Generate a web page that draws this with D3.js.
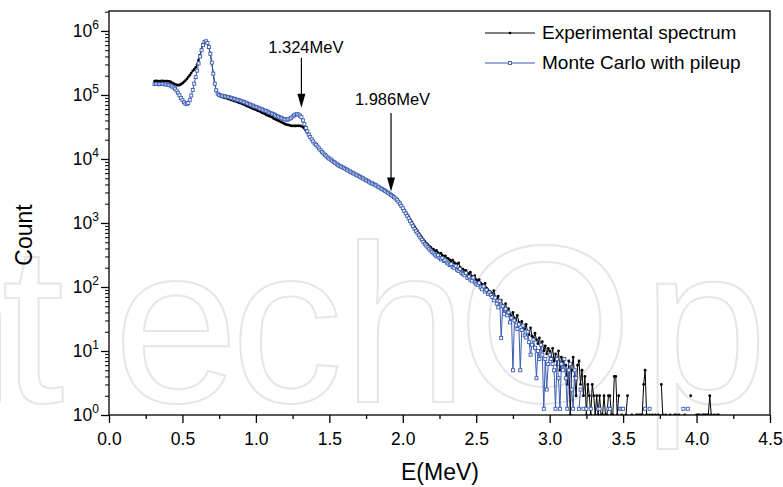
<!DOCTYPE html>
<html>
<head>
<meta charset="utf-8">
<script src="https://cdn.jsdelivr.net/npm/d3@7"></script>
<style>
  body { margin: 0; background: #fff; }
  text { font-family: "Liberation Sans", Arial, sans-serif; }
</style>
</head>
<body>
<div id="chart"></div>
<script>
// channel calibration (MeV)
const eStart = 0.31;
const eStep = 0.01;

// Experimental spectrum, one row per 0.1 MeV (0.31 .. 4.15)
const expCounts = [
  165000,166000,165000,164000,165000,166000,165000,164000,165000,165000,
  163000,160000,155000,150000,146000,143000,142000,143000,147000,153000,
  160000,168000,178000,190000,204000,220000,238000,250000,270000,300000,
  350000,420000,520000,620000,680000,690000,640000,550000,430000,320000,
  210000,150000,118000,104000,98000,95000,93000,92000,90000,89000,
  87000,86000,84000,83000,81000,80000,78000,77000,75000,74000,
  72000,71000,69000,67000,66000,64000,63000,61000,60000,59000,
  57000,56000,55000,53000,52000,51000,49000,48000,47000,46000,
  45000,43000,42000,41000,40000,39000,38000,37000,36000,35000,
  34500,34000,33500,33000,33000,32800,32800,33000,33000,33000,
  32500,31500,30000,28000,26000,24000,22000,20300,18800,17400,
  16500,15500,14500,13500,12800,12000,11400,10900,10400,10000,
  9700,9300,8900,8600,8200,7900,7700,7500,7300,7100,
  6900,6700,6500,6300,6100,5900,5800,5600,5500,5300,
  5200,5000,4900,4700,4600,4500,4400,4200,4100,4000,
  3900,3800,3700,3550,3450,3350,3250,3150,3050,2950,
  2850,2750,2650,2550,2450,2350,2200,2050,1900,1750,
  1600,1480,1360,1250,1140,1050,960,880,810,750,
  690,640,590,550,515,485,460,435,415,395,
  385,360,372,345,330,338,312,300,305,282,
  278,265,255,262,240,232,225,238,205,192,
  190,178,182,165,158,170,148,142,150,130,
  124,130,116,110,103,114,96,90,85,82,
  78,88,70,66,72,58,62,52,48,55,
  42,46,38,35,40,33,30,36,28,26,
  29,24,22,26,20,18,23,17,16,19,
  15,13,16,12,14,10,12,9,11,10,
  8,11,7,9,6,10,5,8,7,6,
  6,3,7,1,5,8,4,2,6,7,
  3,5,2,4,1,3,2,1,3,2,
  1,2,1,2,1,1,2,1,1,2,
  2,1,1,4,4,1,2,0,1,0,
  0,1,2,0,0,1,0,0,1,1,
  1,1,1,3,5,1,0,1,0,1,
  0,1,0,1,0,3,1,0,1,0,
  0,1,0,0,1,1,0,1,0,0,
  0,1,0,0,0,2,0,0,0,1,
  1,1,0,1,1,1,1,1,2,1,
  0,1,0,1,1
];

// Monte Carlo with pileup (scaled, 1.25 per event in the tail)
const mcCounts = [
  148000,149000,148000,147000,148000,149000,148000,147000,146000,145000,
  143000,140000,136000,131000,125000,117000,108000,99000,90000,83000,
  77000,73000,72000,75000,84000,98000,120000,150000,190000,240000,
  310000,400000,500000,600000,670000,690000,650000,560000,440000,320000,
  215000,150000,118000,105000,100000,98000,97000,96000,95000,94000,
  93000,92000,90000,89000,87000,86000,84000,83000,82000,80000,
  79000,77000,76000,74000,72000,71000,69000,68000,66000,65000,
  64000,62000,61000,60000,58000,57000,56000,55000,53000,52000,
  51000,50000,49000,47000,46000,45000,44000,43000,42000,41500,
  41000,41500,42500,44000,46000,48000,49500,50000,49500,47500,
  45000,40000,35000,30500,27000,24000,22000,20300,18800,17400,
  16600,15600,14600,13700,12900,12200,11600,11000,10500,10100,
  9800,9400,9000,8700,8300,8000,7800,7600,7400,7200,
  7000,6800,6600,6400,6200,6000,5900,5700,5550,5400,
  5250,5100,4950,4800,4650,4550,4400,4250,4150,4050,
  3950,3850,3700,3600,3480,3380,3280,3170,3060,2960,
  2860,2750,2640,2530,2420,2300,2150,2000,1850,1700,
  1540,1410,1290,1180,1070,980,890,810,745,690,
  640,590,548,505,470,445,418,395,372,352,
  335,318,300,312,285,270,282,255,262,240,
  232,220,228,205,198,212,185,178,190,165,
  160,152,165,138,145,130,125,140,118,112,
  108,115,98,92,102,85,90,78,82,75,
  70,62,68,55,48,60,16,50,38,45,
  36,40,28,33,5,30,25,22,26,5,
  21.25,25,17.5,16.25,20,13.75,8.75,12.5,15,11.25,
  3.75,10,7.5,12.5,8.75,1.25,7.5,2.5,6.25,8.75,
  7.5,6.25,5,1.25,7.5,3.75,1.25,6.25,5,7.5,
  3.75,1.25,5,6.25,2.5,1.25,5,3.75,0,1.25,
  2.5,0,1.25,0,1.25,0,0,1.25,0,0,
  0,0,1.25,1.25,0,0,0,0,0,1.25,
  1.25,0,0,0,0,0,0,1.25,1.25,1.25,
  0,0,0,0,0,0,0,0,0,0,
  0,0,0,0,1.25,0,0,1.25,0,0,
  0,0,0,0,0,0,0,0,0,0,
  0,0,0,0,0,0,0,0,0,0,
  1.25,0,0,1.25
];

const xMajorTicks = [0, 0.5, 1.0, 1.5, 2.0, 2.5, 3.0, 3.5, 4.0, 4.5];
const yExponents = [0, 1, 2, 3, 4, 5, 6];
const seriesNames = ["Experimental spectrum", "Monte Carlo with pileup"];
const peakLabels = ["1.324MeV", "1.986MeV"];

const width = 783;
const height = 487;
const plot = { left: 109, right: 770, top: 11, bottom: 415 };
const blue = "#3a5cb4";

const svg = d3.select("#chart").append("svg")
  .attr("width", width)
  .attr("height", height);

const x = d3.scaleLinear().domain([0, 4.5]).range([plot.left, plot.right]);
const y = d3.scaleLog().domain([1, 2.05e6]).range([plot.bottom, plot.top]);

// faint publisher watermark behind everything
const wm = svg.append("g")
  .attr("fill", "none")
  .attr("stroke", "#e6e6e6")
  .attr("stroke-width", 2)
  .style("font-size", "225px");
[["n", -48], ["t", 33], ["e", 176], ["c", 287], ["h", 405], ["O", 545], ["p", 705], ["e", 860]]
  .forEach(([ch, cx]) => {
    wm.append("text").attr("x", cx).attr("y", 402)
      .attr("text-anchor", "middle").text(ch);
  });

const exp = expCounts.map((v, i) => ({ e: eStart + i * eStep, v: v }));
const mc = mcCounts.map((v, i) => ({ e: eStart + i * eStep, v: v }));

svg.append("clipPath").attr("id", "clip")
  .append("rect")
  .attr("x", plot.left).attr("y", plot.top)
  .attr("width", plot.right - plot.left)
  .attr("height", plot.bottom - plot.top);

const line = d3.line()
  .defined(d => d.v > 0)
  .x(d => x(d.e))
  .y(d => y(d.v));

const data = svg.append("g").attr("clip-path", "url(#clip)");

data.append("path")
  .datum(exp)
  .attr("fill", "none")
  .attr("stroke", "#000")
  .attr("stroke-width", 1)
  .attr("d", line);

data.selectAll(".dot")
  .data(exp.filter(d => d.v > 0))
  .enter().append("circle")
  .attr("class", "dot")
  .attr("cx", d => x(d.e))
  .attr("cy", d => y(d.v))
  .attr("r", 1.4)
  .attr("fill", "#000");

data.append("path")
  .datum(mc)
  .attr("fill", "none")
  .attr("stroke", blue)
  .attr("stroke-width", 1)
  .attr("d", line);

data.selectAll(".sq")
  .data(mc.filter(d => d.v > 0))
  .enter().append("rect")
  .attr("class", "sq")
  .attr("x", d => x(d.e) - 1.5)
  .attr("y", d => y(d.v) - 1.5)
  .attr("width", 3)
  .attr("height", 3)
  .attr("fill", "#fff")
  .attr("stroke", blue)
  .attr("stroke-width", 0.9);

// axes
const xMinor = xMajorTicks.slice(0, -1).map(t => t + 0.25);
const xAxis = svg.append("g")
  .attr("transform", "translate(0," + plot.bottom + ")")
  .call(d3.axisBottom(x).tickValues(xMajorTicks).tickSize(8).tickPadding(10)
    .tickFormat(d3.format(".1f")));
xAxis.select(".domain").remove();
xAxis.selectAll("text").style("font-size", "17.5px").attr("fill", "#000");
xAxis.selectAll("line").attr("stroke-width", 1.3);

const xAxisMinor = svg.append("g")
  .attr("transform", "translate(0," + plot.bottom + ")")
  .call(d3.axisBottom(x).tickValues(xMinor).tickSize(4).tickFormat(""));
xAxisMinor.select(".domain").remove();
xAxisMinor.selectAll("line").attr("stroke-width", 1.3);

const yMajor = yExponents.map(k => Math.pow(10, k));
const yMinor = [];
yExponents.forEach(k => {
  for (let m = 2; m <= 9; m++) {
    const v = m * Math.pow(10, k);
    if (v <= 2.05e6) yMinor.push(v);
  }
});

const yAxis = svg.append("g")
  .attr("transform", "translate(" + plot.left + ",0)")
  .call(d3.axisLeft(y).tickValues(yMajor).tickSize(8).tickFormat(""));
yAxis.select(".domain").remove();
yAxis.selectAll("line").attr("stroke-width", 1.3);

const yAxisMinor = svg.append("g")
  .attr("transform", "translate(" + plot.left + ",0)")
  .call(d3.axisLeft(y).tickValues(yMinor).tickSize(4).tickFormat(""));
yAxisMinor.select(".domain").remove();
yAxisMinor.selectAll("line").attr("stroke-width", 1);

// y labels as 10^k
const yLab = svg.append("g").selectAll("text")
  .data(yExponents)
  .enter().append("text")
  .attr("x", plot.left - 10)
  .attr("y", k => y(Math.pow(10, k)) + 6)
  .attr("text-anchor", "end")
  .style("font-size", "17.5px");
yLab.append("tspan").text("10");
yLab.append("tspan").attr("dy", -8).style("font-size", "12px").text(k => k);

// frame
svg.append("rect")
  .attr("x", plot.left).attr("y", plot.top)
  .attr("width", plot.right - plot.left)
  .attr("height", plot.bottom - plot.top)
  .attr("fill", "none")
  .attr("stroke", "#000")
  .attr("stroke-width", 1.3);

// axis titles
svg.append("text")
  .attr("x", 440).attr("y", 480)
  .attr("text-anchor", "middle")
  .style("font-size", "23px")
  .text("E(MeV)");

svg.append("text")
  .attr("transform", "translate(32,235) rotate(-90)")
  .attr("text-anchor", "middle")
  .style("font-size", "23px")
  .text("Count");

// peak annotations
const arrows = [
  { label: peakLabels[0], e: 1.31, from: 5.58, to: 4.80, lx: 1.34, ly: 5.66 },
  { label: peakLabels[1], e: 1.92, from: 4.72, to: 3.49, lx: 1.93, ly: 4.84 }
];
arrows.forEach(a => {
  const ax = x(a.e), y0 = y(Math.pow(10, a.from)), y1 = y(Math.pow(10, a.to));
  svg.append("line")
    .attr("x1", ax).attr("x2", ax)
    .attr("y1", y0).attr("y2", y1 - 10)
    .attr("stroke", "#000").attr("stroke-width", 1.2);
  svg.append("path")
    .attr("d", "M" + (ax - 4) + "," + (y1 - 14) + "L" + (ax + 4) + "," + (y1 - 14) + "L" + ax + "," + y1 + "Z")
    .attr("fill", "#000");
  svg.append("text")
    .attr("x", x(a.lx)).attr("y", y(Math.pow(10, a.ly)))
    .attr("text-anchor", "middle")
    .style("font-size", "16.5px")
    .text(a.label);
});

// legend
const legend = svg.append("g");
const legendRows = [
  { name: seriesNames[0], color: "#000", y: 33 },
  { name: seriesNames[1], color: blue, y: 63 }
];
legendRows.forEach((r, i) => {
  legend.append("line")
    .attr("x1", 485).attr("x2", 535)
    .attr("y1", r.y).attr("y2", r.y)
    .attr("stroke", r.color).attr("stroke-width", 1);
  if (i === 0) {
    legend.append("circle").attr("cx", 510).attr("cy", r.y).attr("r", 1.3).attr("fill", "#000");
  } else {
    legend.append("rect").attr("x", 508.5).attr("y", r.y - 1.5)
      .attr("width", 3).attr("height", 3)
      .attr("fill", "#fff").attr("stroke", blue).attr("stroke-width", 0.9);
  }
  legend.append("text")
    .attr("x", 542).attr("y", r.y + 6)
    .style("font-size", "19px")
    .text(r.name);
});
</script>
</body>
</html>
